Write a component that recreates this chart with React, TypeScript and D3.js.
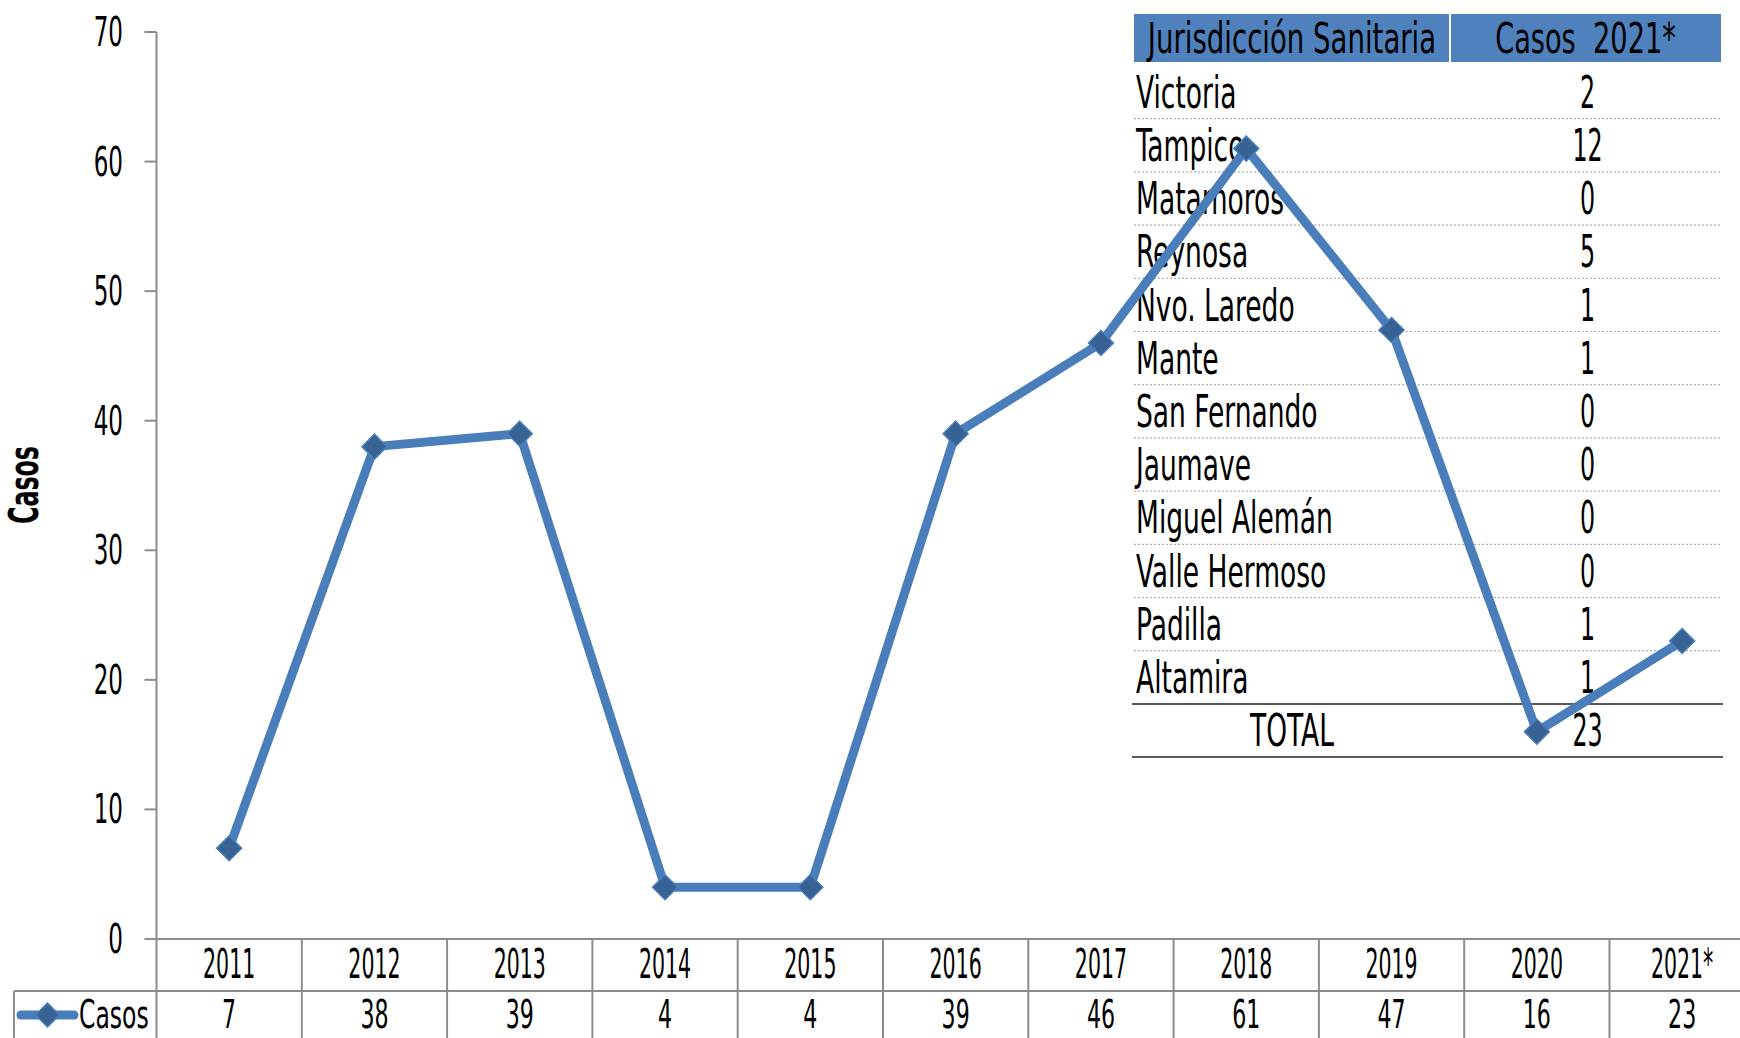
import React from 'react';
import * as d3 from 'd3';

const years = ['2011', '2012', '2013', '2014', '2015', '2016', '2017', '2018', '2019', '2020', '2021*'];
const casos = [7, 38, 39, 4, 4, 39, 46, 61, 47, 16, 23];
const yTicks = [0, 10, 20, 30, 40, 50, 60, 70];
const seriesName = 'Casos';
const yTitle = 'Casos';

const tableHeader = ['Jurisdicción Sanitaria', 'Casos  2021*'];
const jurisdicciones = ['Victoria', 'Tampico', 'Matamoros', 'Reynosa', 'Nvo. Laredo', 'Mante', 'San Fernando', 'Jaumave', 'Miguel Alemán', 'Valle Hermoso', 'Padilla', 'Altamira'];
const casos2021 = [2, 12, 0, 5, 1, 1, 0, 0, 0, 0, 1, 1];
const totalLabel = 'TOTAL';
const totalValue = 23;

const W = 1740;
const H = 1038;
const FONT = "'DejaVu Sans Condensed', 'DejaVu Sans', sans-serif";
const BLUE = '#4A7EBB';
const DARK = '#386194';
const GRID = '#8c8c8c';

function T({ x, y, anchor = 'start', size = 40, sx = 0.75, weight = 'normal', fill = '#000', rotate = 0, children }: any) {
  return (
    <text
      transform={`translate(${x},${y}) rotate(${rotate}) scale(${sx},1)`}
      textAnchor={anchor}
      fontSize={size}
      fontWeight={weight}
      fontFamily={FONT}
      fontStretch="condensed"
      fill={fill}
      style={{ whiteSpace: 'pre' }}
    >
      {children}
    </text>
  );
}

function diamond(cx: number, cy: number, r: number) {
  return `M${cx},${cy - r}L${cx + r},${cy}L${cx},${cy + r}L${cx - r},${cy}Z`;
}

export default function App() {
  const x0 = 156.5;
  const colW = 145.3;
  const x = d3.scaleBand<string>().domain(years).range([x0, x0 + colW * years.length]);
  const y = d3.scaleLinear().domain([0, 70]).range([939, 32]);
  const line = d3.line<number>()
    .x((_, i) => (x(years[i]) as number) + x.bandwidth() / 2)
    .y((d) => y(d));

  const rowsAll = [...jurisdicciones, totalLabel];
  const ty = d3.scaleBand<string>().domain(rowsAll).range([65.5, 65.5 + 53.2 * rowsAll.length]);
  const tLeft = 1134;
  const tMid = 1450;
  const tRight = 1721;

  const row1 = 991;
  const tableBottom = H;
  const rowSx = 0.67;

  return (
    <svg width={W} height={H} style={{ position: 'absolute', left: 0, top: 0, background: '#fff' }}>
      <rect x={0} y={0} width={W} height={H} fill="#fff" />

      {/* Side table */}
      <rect x={tLeft} y={14} width={tMid - tLeft - 1} height={48} fill="#4F81BD" />
      <rect x={tMid + 1} y={14} width={tRight - tMid - 1} height={48} fill="#4F81BD" />
      <T x={(tLeft + tMid) / 2} y={53} anchor="middle" size={42} sx={0.73}>{tableHeader[0]}</T>
      <T x={(tMid + tRight) / 2} y={53} anchor="middle" size={42} sx={0.72}>{tableHeader[1]}</T>
      {jurisdicciones.map((j, i) => {
        const top = ty(j) as number;
        const bot = top + ty.bandwidth();
        return (
          <g key={j}>
            <T x={tLeft + 2} y={bot - 11} size={44} sx={rowSx}>{j}</T>
            <T x={(tMid + tRight) / 2 + 2} y={bot - 11} anchor="middle" size={44} sx={0.6}>{casos2021[i]}</T>
            {i < jurisdicciones.length - 1 && (
              <line x1={tLeft} x2={tRight} y1={bot} y2={bot} stroke="#b0b0b0" strokeWidth={1.2} strokeDasharray="2,2" />
            )}
          </g>
        );
      })}
      {(() => {
        const top = ty(totalLabel) as number;
        const bot = top + ty.bandwidth();
        return (
          <g>
            <line x1={tLeft - 2} x2={tRight + 2} y1={top} y2={top} stroke="#5a5a5a" strokeWidth={2} />
            <line x1={tLeft - 2} x2={tRight + 2} y1={bot} y2={bot} stroke="#5a5a5a" strokeWidth={2} />
            <T x={(tLeft + tMid) / 2} y={bot - 11} anchor="middle" size={44} sx={rowSx}>{totalLabel}</T>
            <T x={(tMid + tRight) / 2 + 2} y={bot - 11} anchor="middle" size={44} sx={0.6}>{totalValue}</T>
          </g>
        );
      })()}

      {/* Y axis */}
      <line x1={x0} x2={x0} y1={y(70)} y2={tableBottom} stroke={GRID} strokeWidth={2} />
      {yTicks.map((t) => (
        <g key={t}>
          <line x1={x0 - 12} x2={x0} y1={y(t)} y2={y(t)} stroke={GRID} strokeWidth={2} />
          <T x={123} y={y(t) + 14} anchor="end" size={40} sx={0.64}>{t}</T>
        </g>
      ))}
      <T x={38} y={485} anchor="middle" size={40} sx={0.66} weight="bold" rotate={-90}>{yTitle}</T>

      {/* Data table below */}
      <line x1={x0} x2={W} y1={y(0)} y2={y(0)} stroke={GRID} strokeWidth={2} />
      <line x1={14} x2={W} y1={row1} y2={row1} stroke={GRID} strokeWidth={2} />
      <line x1={14} x2={14} y1={row1} y2={tableBottom} stroke={GRID} strokeWidth={2} />
      {years.map((yr, i) => {
        const left = x(yr) as number;
        const cx = left + x.bandwidth() / 2;
        return (
          <g key={yr}>
            {i > 0 && <line x1={left} x2={left} y1={y(0)} y2={tableBottom} stroke={GRID} strokeWidth={2} />}
            <T x={cx} y={978} anchor="middle" size={40} sx={0.57}>{yr}</T>
            <T x={cx} y={1028} anchor="middle" size={39} sx={0.63}>{casos[i]}</T>
          </g>
        );
      })}
      {/* legend key */}
      <line x1={21} x2={74} y1={1015} y2={1015} stroke={BLUE} strokeWidth={9} strokeLinecap="round" />
      <path d={diamond(47.5, 1015, 12)} fill={DARK} stroke={BLUE} strokeWidth={1.5} />
      <T x={79} y={1028} size={39} sx={0.67}>{seriesName}</T>

      {/* Series line */}
      <path d={line(casos) as string} fill="none" stroke={BLUE} strokeWidth={9} strokeLinejoin="round" />
      {casos.map((v, i) => (
        <path
          key={i}
          d={diamond((x(years[i]) as number) + x.bandwidth() / 2, y(v), 12.5)}
          fill={DARK}
          stroke={BLUE}
          strokeWidth={1.5}
        />
      ))}
    </svg>
  );
}
